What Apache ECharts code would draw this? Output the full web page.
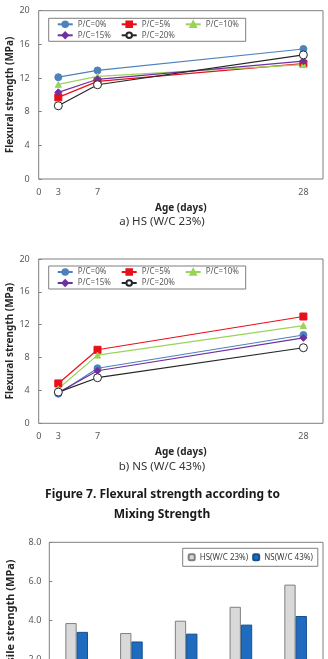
<!DOCTYPE html>
<html>
<head>
<meta charset="utf-8">
<script src="https://cdn.jsdelivr.net/npm/echarts@6/dist/echarts.min.js"></script>
<style>
  html, body { margin: 0; padding: 0; background: #fff; }
  #root { width: 328px; height: 659px; }
</style>
</head>
<body>
<div id="root"></div>
<script>
// ages (days) and tick labels of the two line charts
var days = [3, 7, 28];
var xTickValues = [1, 3, 7, 28];
var xTickLabels = ['0', '3', '7', '28'];
var seriesNames = ['P/C=0%', 'P/C=5%', 'P/C=10%', 'P/C=15%', 'P/C=20%'];

// a) HS (W/C 23%)
var hs0 = [12.1, 12.9, 15.45];
var hs5 = [9.7, 11.6, 13.7];
var hs10 = [11.25, 12.2, 13.6];
var hs15 = [10.3, 11.85, 14.0];
var hs20 = [8.7, 11.2, 14.75];

// b) NS (W/C 43%)
var ns0 = [3.6, 6.7, 10.75];
var ns5 = [4.85, 8.95, 13.0];
var ns10 = [4.2, 8.3, 11.9];
var ns15 = [3.75, 6.4, 10.4];
var ns20 = [3.8, 5.55, 9.2];

// tensile strength bars
var barCats = ['P/C=0%', 'P/C=5%', 'P/C=10%', 'P/C=15%', 'P/C=20%'];
var barHS = [3.88, 3.37, 4.0, 4.71, 5.84];
var barNS = [3.43, 2.94, 3.34, 3.8, 4.24];

var styles = [
  { color: '#4f81bd', symbol: 'circle', size: 7, fill: '#4f81bd' },
  { color: '#e8101a', symbol: 'rect', size: 7, fill: '#e8101a' },
  { color: '#9bd35a', symbol: 'triangle', size: 6, fill: '#9bd35a' },
  { color: '#7030a0', symbol: 'diamond', size: 7, fill: '#7030a0' },
  { color: '#262626', symbol: 'circle', size: 8, fill: '#ffffff' }
];

function pts(vals) {
  return days.map(function (d, i) { return [d, vals[i]]; });
}

function lineSeries(sets, axisIdx) {
  return sets.map(function (vals, i) {
    var s = styles[i];
    return {
      name: seriesNames[i],
      type: 'line',
      xAxisIndex: axisIdx,
      yAxisIndex: axisIdx,
      data: pts(vals),
      symbol: s.symbol,
      symbolSize: s.size,
      lineStyle: { color: s.color, width: 1.2 },
      itemStyle: { color: s.fill, borderColor: s.color, borderWidth: 1 },
      z: 3
    };
  });
}

var tickFont = { fontSize: 9, color: '#595959', fontFamily: 'Noto Sans' };
var nameFont = { fontSize: 10, fontWeight: 'bold', color: '#262626', fontFamily: 'Noto Sans' };
var yTick = { show: true, inside: true, length: 3, lineStyle: { color: '#7f7f7f' } };

function lineXAxis(idx) {
  return {
    type: 'value', gridIndex: idx, min: 1, max: 30,
    name: 'Age (days)', nameLocation: 'middle', nameGap: 24, nameTextStyle: nameFont,
    nameMoveOverlap: false,
    axisLine: { show: false }, axisTick: { show: false }, splitLine: { show: false },
    axisLabel: Object.assign({
      customValues: xTickValues, margin: 9,
      formatter: function (v) { return xTickLabels[xTickValues.indexOf(v)]; }
    }, tickFont)
  };
}
function lineYAxis(idx) {
  return {
    type: 'value', gridIndex: idx, min: 0, max: 20, interval: 4,
    name: 'Flexural strength (MPa)', nameLocation: 'middle', nameGap: 23.5, nameRotate: 90,
    nameTextStyle: nameFont, nameMoveOverlap: false,
    axisLine: { show: false }, axisTick: yTick, splitLine: { show: false },
    axisLabel: Object.assign({ margin: 9 }, tickFont)
  };
}

function lineLegend(top) {
  return {
    data: seriesNames, left: 48.7, top: top, width: 190,
    orient: 'horizontal', itemWidth: 15, itemHeight: 7, itemGap: 3,
    padding: [2, 0, 2, 8],
    borderColor: '#7f7f7f', borderWidth: 1, backgroundColor: '#fff',
    textStyle: { fontSize: 8, lineHeight: 8, width: 40, color: '#595959', fontFamily: 'Noto Sans' }
  };
}

var myChart = echarts.init(document.getElementById('root'));
var option = {
  animation: false,
  backgroundColor: '#fff',
  grid: [
    { left: 38.7, top: 10.7, width: 284.3, height: 168.3, show: true, borderColor: '#7f7f7f', borderWidth: 1, outerBoundsMode: 'none' },
    { left: 38.7, top: 259, width: 284.3, height: 164.3, show: true, borderColor: '#7f7f7f', borderWidth: 1, outerBoundsMode: 'none' },
    { left: 49.3, top: 542.3, width: 273.7, height: 156.8, show: true, borderColor: '#7f7f7f', borderWidth: 1, outerBoundsMode: 'none' }
  ],
  xAxis: [
    lineXAxis(0),
    lineXAxis(1),
    {
      type: 'category', gridIndex: 2, data: barCats,
      axisLine: { show: false }, axisTick: { show: false },
      axisLabel: tickFont
    }
  ],
  yAxis: [
    lineYAxis(0),
    lineYAxis(1),
    {
      type: 'value', gridIndex: 2, min: 0, max: 8, interval: 2,
      name: 'Tensile strength (MPa)', nameLocation: 'middle', nameGap: 32.5, nameRotate: 90,
      nameTextStyle: { fontSize: 11, fontWeight: 'bold', color: '#262626', fontFamily: 'Noto Sans' },
      nameMoveOverlap: false,
      axisLine: { show: false }, axisTick: yTick, splitLine: { show: false },
      axisLabel: Object.assign({ margin: 8, formatter: function (v) { return v.toFixed(1); } }, tickFont)
    }
  ],
  legend: [
    lineLegend(18.3),
    lineLegend(266),
    {
      data: ['HS(W/C 23%)', 'NS(W/C 43%)'], left: 182.7, top: 548.3, width: 140,
      orient: 'horizontal',
      itemWidth: 6, itemHeight: 6, itemGap: 4, padding: [5, 5, 5, 5],
      borderColor: '#7f7f7f', borderWidth: 1, backgroundColor: '#fff',
      textStyle: { fontSize: 8, color: '#404040', fontFamily: 'Noto Sans' }
    }
  ],
  graphic: [
    { type: 'text', style: { text: 'a) HS (W/C 23%)', x: 162, y: 222, align: 'center', verticalAlign: 'middle', font: '11.5px "Noto Sans"', fill: '#333' } },
    { type: 'text', style: { text: 'b) NS (W/C 43%)', x: 162, y: 466.5, align: 'center', verticalAlign: 'middle', font: '11.5px "Noto Sans"', fill: '#333' } },
    { type: 'text', style: { text: 'Figure 7. Flexural strength according to', x: 162.5, y: 495, align: 'center', verticalAlign: 'middle', font: 'bold 12px "Noto Sans"', fill: '#1a1a1a' } },
    { type: 'text', style: { text: 'Mixing Strength', x: 162, y: 515, align: 'center', verticalAlign: 'middle', font: 'bold 12px "Noto Sans"', fill: '#1a1a1a' } }
  ],
  series: lineSeries([hs0, hs5, hs10, hs15, hs20], 0)
    .concat(lineSeries([ns0, ns5, ns10, ns15, ns20], 1))
    .concat([
      {
        name: 'HS(W/C 23%)', type: 'bar', xAxisIndex: 2, yAxisIndex: 2,
        data: barHS, barWidth: 11.3, barGap: '0%',
        itemStyle: { color: '#d9d9d9', borderColor: '#7f7f7f', borderWidth: 1 }
      },
      {
        name: 'NS(W/C 43%)', type: 'bar', xAxisIndex: 2, yAxisIndex: 2,
        data: barNS, barWidth: 11.3, barGap: '0%',
        itemStyle: { color: '#1f6bbf', borderColor: '#15508f', borderWidth: 1 }
      }
    ])
};
option && myChart.setOption(option);
</script>
</body>
</html>
